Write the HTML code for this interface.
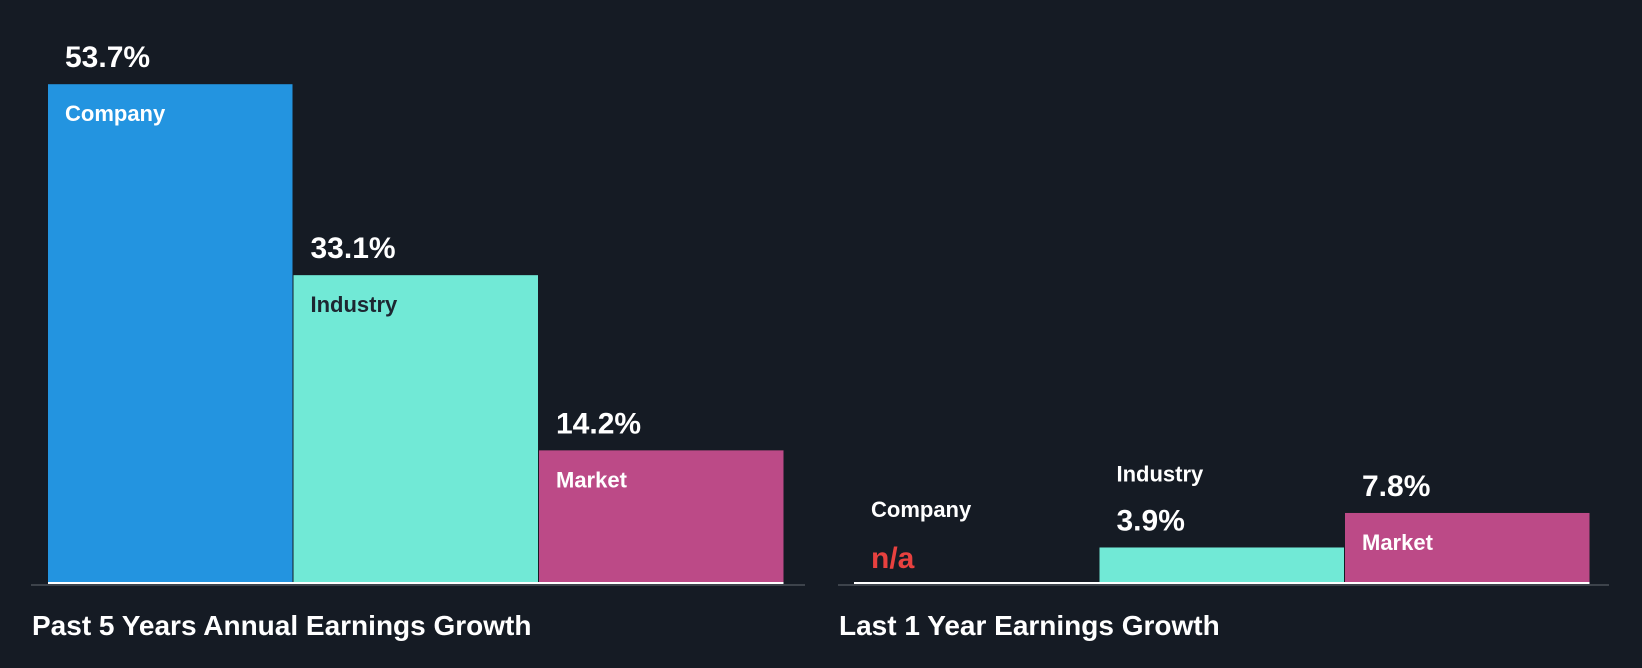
<!DOCTYPE html>
<html><head><meta charset="utf-8"><style>
html,body{margin:0;padding:0;background:#151b24;}
svg{display:block;font-family:"Liberation Sans",sans-serif;font-weight:bold;}
</style></head><body>
<svg id="chart" width="1642" height="668" viewBox="0 0 1642 668">
<rect width="1642" height="668" fill="#151b24"/>
</svg>
<script>
const categories = ["Company","Industry","Market"];
const past5Values = [53.7, 33.1, 14.2];
const last1Values = [null, 3.9, 7.8];
const panelTitles = ["Past 5 Years Annual Earnings Growth","Last 1 Year Earnings Growth"];
const colors = ["#2394e0","#71e9d6","#bc4a87"];
const labelColors = ["#ffffff","#1d2631","#ffffff"];
const NS="http://www.w3.org/2000/svg";
const svg=document.getElementById('chart');
const baseY=582;
function mk(tag,attrs,parent){const e=document.createElementNS(NS,tag);for(const k in attrs)e.setAttribute(k,attrs[k]);(parent||svg).appendChild(e);return e;}
function panel(values,x0,axisX0,axisX1,pxPer,title,name){
  const g=mk('g',{});
  
  
  const bw=245.5;
  const yScale=v=>baseY-v*pxPer;
  values.forEach((v,i)=>{
    const bx=x0+i*bw;
    const top=v==null?baseY:yScale(v);
    if(v!=null){
      const r=mk('rect',{x:bx,y:top,width:bw-1,height:baseY-top,fill:colors[i]},g);
      
      
    }
    const big=v!=null&&(baseY-top)>60;
    let labY,valY,labFill;
    if(v==null){labY=top-65;valY=top-14;labFill='#fff';}
    else if(big){labY=top+37;valY=top-17;labFill=labelColors[i];}
    else {labY=top-66;valY=top-17;labFill='#fff';}
    const vt=mk('text',{x:bx+17,y:valY,fill:v==null?'#e8413f':'#fff','font-size':30},g);
    vt.textContent=v==null?'n/a':v.toFixed(1)+'%';
    
    
    const lt=mk('text',{x:bx+17,y:labY,fill:labFill,'font-size':22},g);
    lt.textContent=categories[i];
    
    
  });
  const wl=mk('rect',{x:x0,y:baseY,width:bw*3-1,height:2,fill:'#ffffff'},g);
  
  
  const ax=mk('rect',{x:axisX0,y:baseY+2,width:axisX1-axisX0,height:2,fill:'#3d434b'},g);
  
  
  const t=mk('text',{x:axisX0+1,y:635,fill:'#fff','font-size':28},g);
  t.textContent=title;
  
  
}
panel(past5Values,48,31,805,9.27,panelTitles[0],'past-5-years-panel');
panel(last1Values,854,838,1609,8.85,panelTitles[1],'last-1-year-panel');
</script>
</body></html>
